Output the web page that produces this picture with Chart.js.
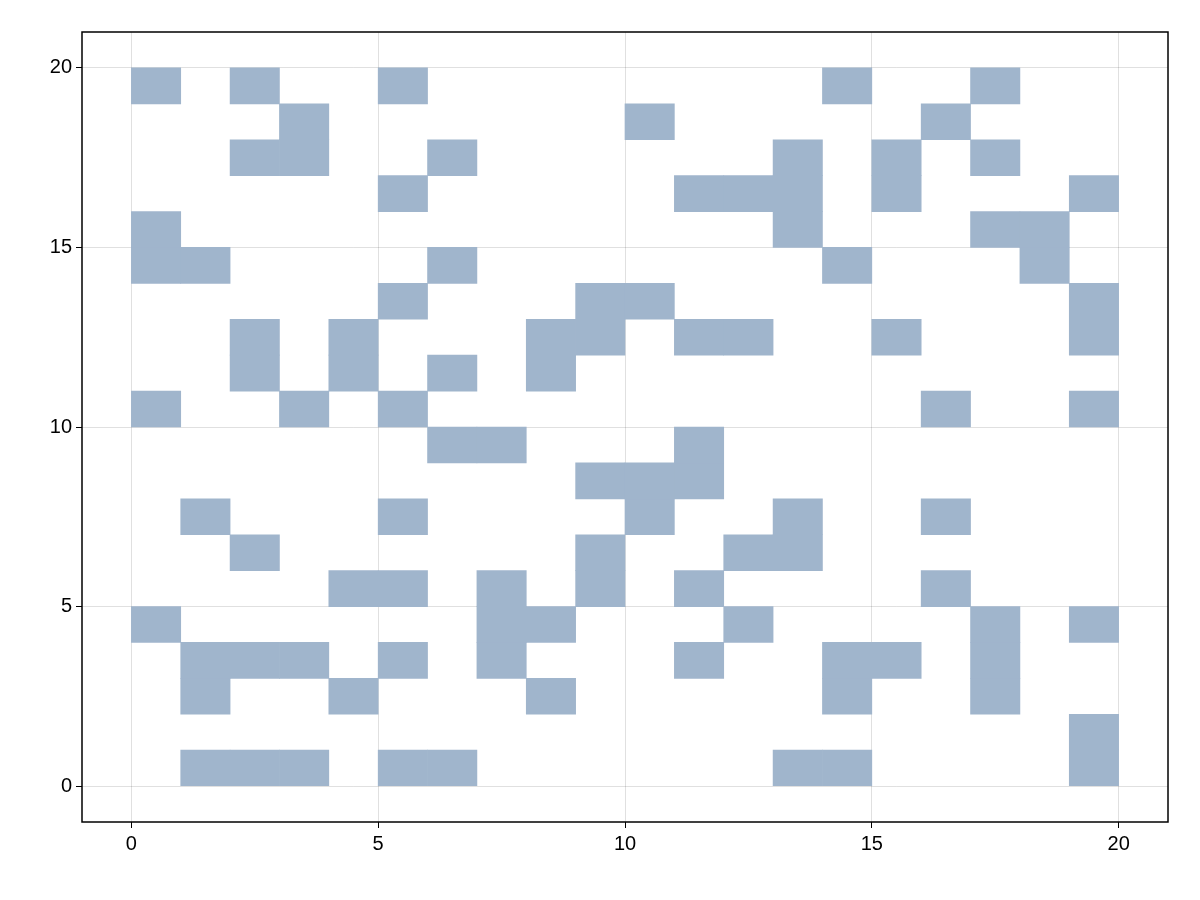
<!DOCTYPE html>
<html><head><script src="https://cdn.jsdelivr.net/npm/chart.js@4"></script>
<style>body{margin:0;background:#fff}#c{display:block}</style></head>
<body><div style="width:1200px;height:900px"><canvas id="c"></canvas></div>
<script>
// filled columns for each row (row index = lower y value of cell)
const rowCols = {
  19:[0,2,5,14,17], 18:[3,10,16], 17:[2,3,6,13,15,17], 16:[5,11,12,13,15,19],
  15:[0,13,17,18], 14:[0,1,6,14,18], 13:[5,9,10,19], 12:[2,4,8,9,11,12,15,19],
  11:[2,4,6,8], 10:[0,3,5,16,19], 9:[6,7,11], 8:[9,10,11], 7:[1,5,10,13,16],
  6:[2,9,12,13], 5:[4,5,7,9,11,16], 4:[0,7,8,12,17,19], 3:[1,2,3,5,7,11,14,15,17],
  2:[1,4,8,14,17], 1:[19], 0:[1,2,3,5,6,13,14,19]
};
const xTicks=[0,5,10,15,20], yTicks=[0,5,10,15,20];
const cells=[];
for(const r in rowCols) for(const c of rowCols[r]) cells.push({x:c+0.5,y:[+r,+r+1]});
const box={id:'box',afterDraw(ch){const a=ch.chartArea,x=ch.ctx;x.save();x.strokeStyle='#000';x.lineWidth=1.5;x.strokeRect(a.left,a.top,a.right-a.left,a.bottom-a.top);x.restore();}};
const tickOpt=()=>({autoSkip:false,color:'#000',font:{family:'Liberation Sans',size:20},padding:4});
new Chart(document.getElementById('c'),{type:'bar',
 data:{datasets:[{data:cells,backgroundColor:'#a0b5cc',borderWidth:0,barPercentage:1,categoryPercentage:1,grouped:false}]},
 options:{responsive:true,maintainAspectRatio:false,animation:false,
  layout:{padding:{left:0,top:32,right:32,bottom:0}},
  plugins:{legend:{display:false},tooltip:{enabled:false}},
  scales:{
   x:{type:'linear',offset:false,min:-1,max:21,afterBuildTicks(s){s.ticks=xTicks.map(v=>({value:v}));},
      afterFit(s){s.height=78;},ticks:tickOpt(),
      grid:{offset:false,color:'rgba(0,0,0,0.12)',tickLength:6,tickColor:'#000'},border:{display:false}},
   y:{type:'linear',min:-1,max:21,afterBuildTicks(s){s.ticks=yTicks.map(v=>({value:v}));},
      afterFit(s){s.width=82;},ticks:tickOpt(),
      grid:{color:'rgba(0,0,0,0.12)',tickLength:6,tickColor:'#000'},border:{display:false}}
  }},plugins:[box]});
</script></body></html>
